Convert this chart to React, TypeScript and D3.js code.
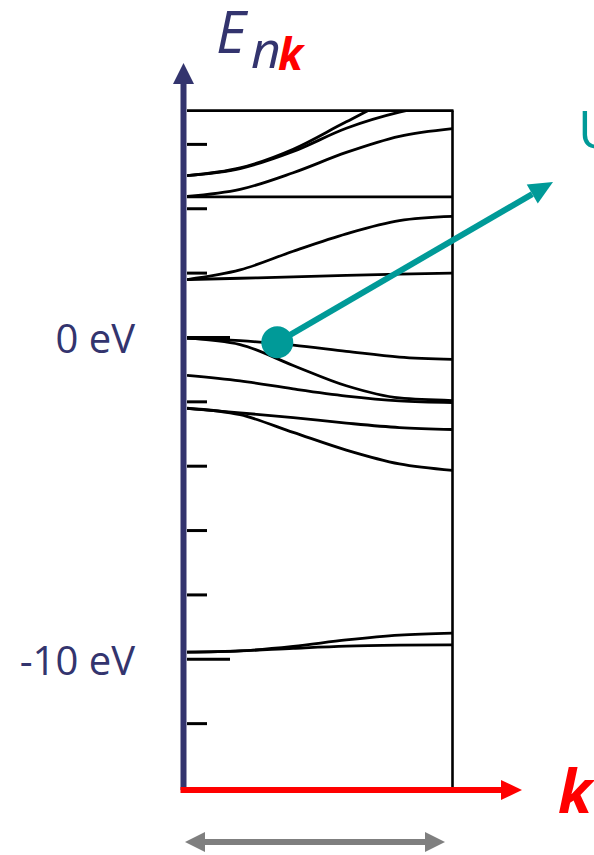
import React from 'react';
import * as d3 from 'd3';

// k points along the zone (0 = Gamma, 1 = zone edge)
const kPoints = [0, 0.2, 0.4, 0.6, 0.8, 1];

// band energies in eV at each k point
const conduction1 = [5.03, 5.27, 5.85, 6.7, 7.5, 7.9];
const conduction2 = [5.03, 5.25, 5.78, 6.5, 7.0, 7.3];
const conduction3 = [4.38, 4.6, 5.12, 5.75, 6.25, 6.49];
const flatBand1 = [4.37, 4.37, 4.37, 4.37, 4.37, 4.37];
const conduction4 = [1.8, 2.1, 2.68, 3.22, 3.63, 3.76];
const flatBand2 = [1.8, 1.84, 1.88, 1.93, 1.97, 2.0];
const valence1 = [-0.03, -0.1, -0.24, -0.43, -0.61, -0.68];
const valence2 = [-0.02, -0.22, -0.87, -1.5, -1.88, -1.96];
const valence3 = [-1.18, -1.35, -1.6, -1.82, -1.97, -2.02];
const valence4 = [-2.2, -2.34, -2.49, -2.66, -2.8, -2.86];
const valence5 = [-2.2, -2.4, -2.95, -3.5, -3.93, -4.13];
const deepBand1 = [-9.78, -9.74, -9.6, -9.4, -9.25, -9.19];
const deepBand2 = [-9.78, -9.74, -9.66, -9.59, -9.56, -9.55];

const bands = [
  conduction1, conduction2, conduction3, flatBand1, conduction4, flatBand2,
  valence1, valence2, valence3, valence4, valence5, deepBand1, deepBand2,
];

const tickValues = [6, 4, 2, 0, -2, -4, -6, -8, -10, -12];
const longTicks = [0, -10];
const axisLabels = [
  { value: 0, text: '0 eV' },
  { value: -10, text: '-10 eV' },
];

// the highlighted state on the top valence band
const markerK = 0.34;
const markerE = -0.15;

const W = 594;
const H = 855;
const navy = '#33346e';
const teal = '#009a98';
const red = '#ff0000';

const x = d3.scaleLinear().domain([0, 1]).range([187, 452.5]);
const y = d3.scaleLinear().domain([-14, 7.05]).range([788, 110.6]);

const bandLine = d3
  .line<number>()
  .x((_, i) => x(kPoints[i]))
  .y((d) => y(d))
  .curve(d3.curveMonotoneX);

const App = () => {
  const [x0, x1] = x.range();
  const [yb, yt] = y.range();
  const axisX = 183.5;
  const axisY = 790;

  // teal arrow geometry
  const mx = x(markerK);
  const my = y(markerE);
  const tipX = 553;
  const tipY = 182;
  const ang = Math.atan2(tipY - my, tipX - mx);
  const headLen = 24;
  const headHalf = 11;
  const bx = tipX - headLen * Math.cos(ang);
  const by = tipY - headLen * Math.sin(ang);
  const px = -Math.sin(ang) * headHalf;
  const py = Math.cos(ang) * headHalf;

  return (
    <svg
      width={W}
      height={H}
      style={{ position: 'absolute', left: 0, top: 0, background: '#fff' }}
      fontFamily="'Open Sans', sans-serif"
    >
      <defs>
        <clipPath id="frameClip">
          <rect x={x0} y={yt} width={x1 - x0} height={yb - yt} />
        </clipPath>
      </defs>

      {/* frame */}
      <line x1={x0} x2={x1 + 1} y1={yt} y2={yt} stroke="#000" strokeWidth={2.6} />
      <line x1={x1} x2={x1} y1={yt} y2={yb + 1} stroke="#000" strokeWidth={2.6} />

      {/* ticks */}
      {tickValues.map((t) => (
        <line
          key={t}
          x1={x0}
          x2={longTicks.includes(t) ? x0 + 43 : x0 + 20}
          y1={y(t)}
          y2={y(t)}
          stroke="#000"
          strokeWidth={3}
        />
      ))}

      {/* bands */}
      <g clipPath="url(#frameClip)">
        {bands.map((b, i) => (
          <path key={i} d={bandLine(b) || ''} fill="none" stroke="#000" strokeWidth={2.8} />
        ))}
      </g>

      {/* energy axis */}
      <line x1={axisX} x2={axisX} y1={axisY} y2={82} stroke={navy} strokeWidth={6} />
      <polygon points={`${axisX},63 ${axisX - 10.5},84 ${axisX + 10.5},84`} fill={navy} />

      {/* k axis */}
      <line x1={axisX - 3} x2={502} y1={axisY} y2={axisY} stroke={red} strokeWidth={6} />
      <polygon points={`522,${axisY} 501,${axisY - 10} 501,${axisY + 10}`} fill={red} />

      {/* zone width arrow */}
      <line x1={200} x2={430} y1={842} y2={842} stroke="#7f7f7f" strokeWidth={6} />
      <polygon points={`185,842 205,832 205,852`} fill="#7f7f7f" />
      <polygon points={`445,842 425,832 425,852`} fill="#7f7f7f" />

      {/* teal marker and arrow */}
      <line x1={mx} y1={my} x2={bx} y2={by} stroke={teal} strokeWidth={6} />
      <polygon
        points={`${tipX},${tipY} ${bx + px},${by + py} ${bx - px},${by - py}`}
        fill={teal}
      />
      <circle cx={mx} cy={my} r={16} fill={teal} />
      <text x={578} y={148} fontSize={52} fill={teal}>
        U
      </text>

      {/* labels */}
      {axisLabels.map((l) => (
        <text
          key={l.value}
          x={135}
          y={y(l.value)}
          dominantBaseline="central"
          textAnchor="end"
          fontSize={40}
          fill={navy}
        >
          {l.text}
        </text>
      ))}

      <text x={216} y={53} fontSize={58} fontStyle="italic" fill={navy}>
        E
      </text>
      <text x={251} y={68} fontSize={52} fontStyle="italic" fill={navy}>
        n
      </text>
      <text x={278} y={70} fontSize={44} fontStyle="italic" fontWeight="bold" fill={red}>
        k
      </text>
      <text x={558} y={813} fontSize={60} fontStyle="italic" fontWeight="bold" fill={red}>
        k
      </text>
    </svg>
  );
};

export default App;
